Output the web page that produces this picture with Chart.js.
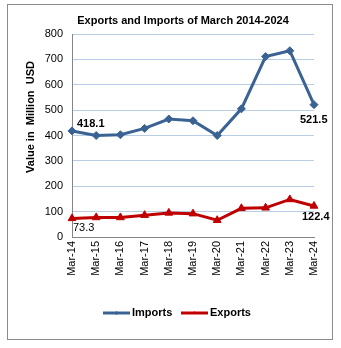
<!DOCTYPE html>
<html>
<head>
<meta charset="utf-8">
<script src="https://cdn.jsdelivr.net/npm/chart.js@4.4.1/dist/chart.umd.min.js"></script>
<style>
  html, body { margin: 0; padding: 0; background: #ffffff; }
  #wrap { width: 341px; height: 348px; }
</style>
</head>
<body>
<div id="wrap"><canvas id="c" width="341" height="348"></canvas></div>
<script>
// March trade figures, million USD
const categories = ['Mar-14', 'Mar-15', 'Mar-16', 'Mar-17', 'Mar-18', 'Mar-19', 'Mar-20', 'Mar-21', 'Mar-22', 'Mar-23', 'Mar-24'];
const imports = [418.1, 400, 403, 428, 465, 458, 400, 505, 711, 734, 521.5];
const exports = [73.3, 77, 77, 86, 95, 92, 66, 113, 115, 148, 122.4];
const yTicks = [0, 100, 200, 300, 400, 500, 600, 700, 800];

const BLUE = '#3A6394';
const RED = '#C00000';
const FONT = '"Liberation Sans", Arial, sans-serif';

// Values printed beside the first and last points of each series
const pointLabels = [
  { ds: 0, idx: 0, dx: 5, dy: -7, bold: true },
  { ds: 0, idx: 10, dx: -14, dy: 15, bold: true },
  { ds: 1, idx: 0, dx: 1, dy: 10, bold: false },
  { ds: 1, idx: 10, dx: -12, dy: 11, bold: true }
];

const framePlugin = {
  id: 'frame',
  beforeDraw(chart) {
    const ctx = chart.ctx;
    ctx.save();
    ctx.fillStyle = '#ffffff';
    ctx.fillRect(0, 0, chart.width, chart.height);
    ctx.strokeStyle = '#8C8C8C';
    ctx.lineWidth = 1;
    ctx.strokeRect(7.5, 4.5, 325, 335);
    ctx.restore();
  },
  afterDraw(chart) {
    const ctx = chart.ctx;

    // chart title
    ctx.save();
    ctx.font = 'bold 11px ' + FONT;
    ctx.fillStyle = '#000000';
    ctx.textAlign = 'center';
    ctx.textBaseline = 'middle';
    ctx.fillText('Exports and Imports of March 2014-2024', 183, 21);
    ctx.restore();

    // y-axis title
    ctx.save();
    ctx.translate(31, 117);
    ctx.rotate(-Math.PI / 2);
    ctx.font = 'bold 11px ' + FONT;
    ctx.fillStyle = '#000000';
    ctx.textAlign = 'center';
    ctx.textBaseline = 'middle';
    ctx.fillText('Value in  Million  USD', 0, 0);
    ctx.restore();

    // value labels
    ctx.save();
    ctx.fillStyle = '#000000';
    ctx.textBaseline = 'middle';
    ctx.textAlign = 'left';
    pointLabels.forEach(l => {
      const el = chart.getDatasetMeta(l.ds).data[l.idx];
      const v = chart.data.datasets[l.ds].data[l.idx];
      ctx.font = (l.bold ? 'bold ' : '') + '11px ' + FONT;
      ctx.fillText(String(v), el.x + l.dx, el.y + l.dy);
    });
    ctx.restore();

    // legend: line sample with marker, then series name
    ctx.save();
    const ly = 313;
    const starts = [103, 181];
    chart.data.datasets.forEach((ds, i) => {
      const x0 = starts[i];
      ctx.strokeStyle = ds.borderColor;
      ctx.lineWidth = 3;
      ctx.beginPath();
      ctx.moveTo(x0, ly);
      ctx.lineTo(x0 + 27, ly);
      ctx.stroke();
      ctx.fillStyle = ds.borderColor;
      Chart.helpers.drawPoint(ctx, { pointStyle: ds.pointStyle, radius: 2, borderWidth: 0 }, x0 + 13.5, ly);
      ctx.fillStyle = '#000000';
      ctx.font = 'bold 11px ' + FONT;
      ctx.textAlign = 'left';
      ctx.textBaseline = 'middle';
      ctx.fillText(ds.label, x0 + 29, ly);
    });
    ctx.restore();
  }
};

new Chart(document.getElementById('c'), {
  type: 'line',
  data: {
    labels: categories,
    datasets: [
      {
        label: 'Imports',
        data: imports,
        borderColor: BLUE,
        backgroundColor: BLUE,
        borderWidth: 3,
        pointStyle: 'rectRot',
        pointRadius: 4,
        pointBorderWidth: 1,
        tension: 0
      },
      {
        label: 'Exports',
        data: exports,
        borderColor: RED,
        backgroundColor: RED,
        borderWidth: 3,
        pointStyle: 'triangle',
        pointRadius: 4.5,
        pointBorderWidth: 1,
        tension: 0
      }
    ]
  },
  options: {
    responsive: false,
    animation: false,
    devicePixelRatio: 1,
    layout: { padding: { top: 34, left: 8, right: 27, bottom: 66 } },
    plugins: {
      title: { display: false },
      legend: { display: false },
      tooltip: { enabled: false }
    },
    scales: {
      x: {
        offset: false,
        grid: { display: false, drawTicks: false, tickLength: 0 },
        border: { color: '#868686', width: 1 },
        ticks: {
          color: '#000000',
          font: { family: FONT, size: 11 },
          minRotation: 90,
          maxRotation: 90,
          autoSkip: false,
          padding: 4
        },
        afterFit(scale) { scale.height = 45; }
      },
      y: {
        min: 0,
        max: 800,
        afterBuildTicks(scale) { scale.ticks = yTicks.map(v => ({ value: v })); },
        grid: { color: '#B9CDE5', lineWidth: 1, drawTicks: false },
        border: { color: '#868686', width: 1 },
        ticks: {
          color: '#000000',
          font: { family: FONT, size: 11 },
          padding: 9
        },
        afterFit(scale) { scale.width = 64; }
      }
    }
  },
  plugins: [framePlugin]
});
</script>
</body>
</html>
